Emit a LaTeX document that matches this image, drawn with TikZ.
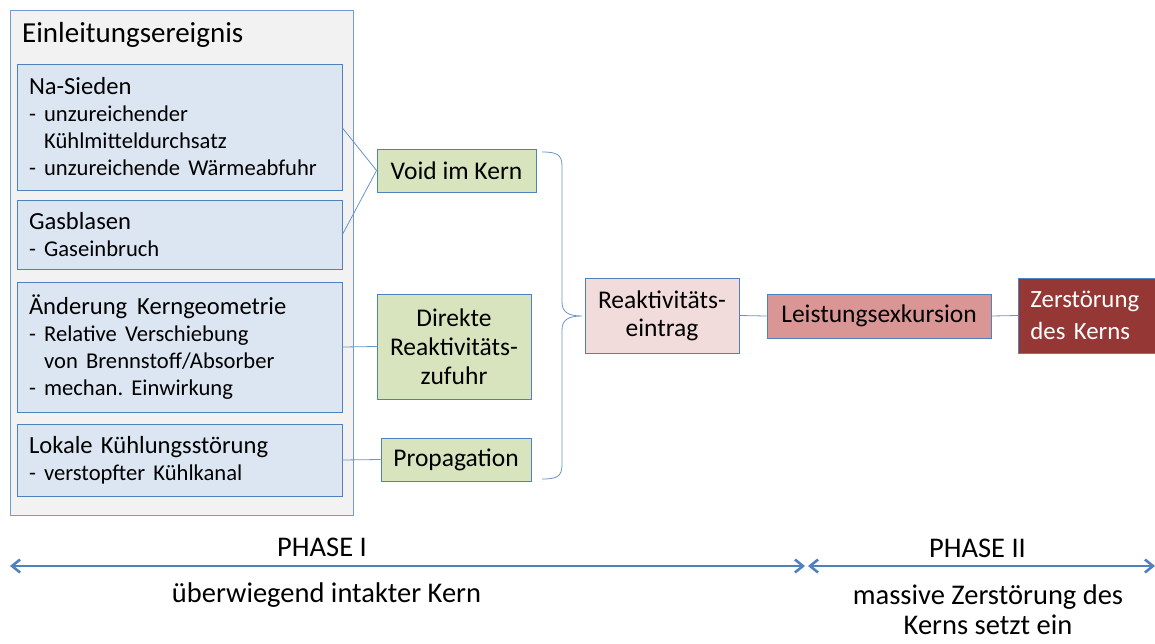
\documentclass[tikz,border=0pt]{standalone}
\usepackage{fontspec}
\setmainfont{Carlito}
\usetikzlibrary{arrows.meta,positioning}
\definecolor{rahmen}{HTML}{4F81BD}
\definecolor{grauhell}{HTML}{F2F2F2}
\definecolor{blauhell}{HTML}{DCE6F2}
\definecolor{gruenhell}{HTML}{D7E4BD}
\definecolor{rosahell}{HTML}{F2DCDB}
\definecolor{rosamittel}{HTML}{D99694}
\definecolor{rotdunkel}{HTML}{953735}
\newcommand{\titelfont}{\fontsize{29}{34}\selectfont}
\newcommand{\kopffont}{\fontsize{24.6}{27}\selectfont}
\newcommand{\unterfont}{\fontsize{22.6}{27}\selectfont}
\newcommand{\kastenfont}{\fontsize{25.5}{29}\selectfont}
\newcommand{\phasenfont}{\fontsize{28.5}{30}\selectfont}
\newcommand{\einzug}{\phantom{-}\ }
\frenchspacing

\begin{document}
\begin{tikzpicture}[
        x=1pt, y=-1pt,
        every node/.style={font=\kastenfont},
        ursache/.style={draw=rahmen, fill=blauhell, line width=0.9pt, font=\kopffont,
            text width=301pt, inner xsep=12pt, inner ysep=0pt, align=left},
        folge/.style={draw=rahmen, line width=0.9pt, inner sep=0pt, align=center},
        verbinder/.style={rahmen!85, line width=0.8pt},
        phasenpfeil/.style={rahmen, line width=2.6pt,
            {Straight Barb[length=8pt,width=13pt]}-{Straight Barb[length=8pt,width=13pt]}},
        phasentext/.style={font=\phasenfont, inner sep=0pt}
    ]
    \useasboundingbox (0,0) rectangle (1155,643);

    % ============ Einleitungsereignis ============
    \node[draw=rahmen!80, fill=grauhell, line width=0.9pt, minimum width=343pt,
        minimum height=505pt, inner sep=0pt] (ereignis) at (181.5,262.5) {};
    \node[font=\titelfont, inner sep=0pt, anchor=base west] (ereignistitel) at (22,42)
        {Einleitungsereignis};

    \node[ursache, minimum height=126pt] (nasieden) at (179.5,127)
        {Na-Sieden\\ \unterfont - unzureichender\\ \unterfont\einzug K\"uhlmitteldurchsatz\\
         \unterfont - unzureichende W\"armeabfuhr};
    \node[ursache, minimum height=69pt] (gasblasen) at (179.5,234.5)
        {Gasblasen\\ \unterfont - Gaseinbruch};
    \node[ursache, minimum height=130pt] (geometrie) at (179.5,347)
        {\"Anderung\hspace{0.4em}Kerngeometrie\\ \unterfont - Relative Verschiebung\\
         \unterfont\einzug von Brennstoff/Absorber\\ \unterfont - mechan. Einwirkung};
    \node[ursache, minimum height=72pt] (kuehlung) at (179.5,460)
        {Lokale K\"uhlungsst\"orung\\ \unterfont - verstopfter K\"uhlkanal};

    % ============ Mechanismen ============
    \node[folge, fill=gruenhell, minimum width=159pt, minimum height=43pt] (void)
        at (456.5,170.5) {Void im Kern};
    \node[folge, fill=gruenhell, minimum width=154pt, minimum height=105pt] (direkt)
        at (454,346.5) {Direkte\\Reaktivit\"ats-\\zufuhr};
    \node[folge, fill=gruenhell, minimum width=150pt, minimum height=43pt] (propagation)
        at (456,459.5) {Propagation};

    \draw[verbinder] (nasieden.east |- 0,128) -- (void.west);
    \draw[verbinder] (gasblasen.east) -- (void.west);
    \draw[verbinder] (geometrie.east) -- (direkt.west);
    \draw[verbinder] (kuehlung.east) -- (propagation.west);

    % geschweifte Klammer
    \coordinate (klammeroben) at (542,152);
    \coordinate (klammerunten) at (542,479);
    \coordinate (klammerspitze) at (582,316);
    \draw[verbinder] (klammeroben) .. controls (556,152) and (562,154) .. (562,166)
        -- (562,302) .. controls (562,312) and (568,316) .. (klammerspitze)
        .. controls (568,316) and (562,320) .. (562,330)
        -- (562,465) .. controls (562,477) and (556,479) .. (klammerunten);

    % ============ Ablauf ============
    \node[folge, fill=rosahell, minimum width=154pt, minimum height=75pt,
        font=\fontsize{25.5}{28}\selectfont] (eintrag) at (662,315.5)
        {Reaktivit\"ats-\\eintrag};
    \node[folge, fill=rosamittel, minimum width=224pt, minimum height=44pt] (exkursion)
        at (879,316) {Leistungsexkursion};
    \node[draw=rahmen, line width=0.9pt, fill=rotdunkel, text=white, anchor=west,
        text width=126pt, inner xsep=12pt, inner ysep=0pt, minimum height=75pt,
        align=left, font=\fontsize{24.8}{32}\selectfont] (zerstoerung) at (1018,315.5)
        {Zerst\"orung\\des Kerns};

    \draw[verbinder] (eintrag.east) -- (exkursion.west);
    \draw[verbinder] (exkursion.east) -- (zerstoerung.west);

    % ============ Phasen ============
    \coordinate (phaseeinsl) at (10,566);
    \coordinate (phaseeinsr) at (805,566);
    \coordinate (phasezweil) at (808,566);
    \coordinate (phasezweir) at (1155,566);
    \draw[phasenpfeil] (phaseeinsl) -- (phaseeinsr);
    \draw[phasenpfeil] (phasezweil) -- (phasezweir);

    \node[phasentext, anchor=base] (phaseeins) at (322,556) {PHASE I};
    \node[phasentext, anchor=base] (phasezwei) at (977.5,557) {PHASE II};
    \node[phasentext, anchor=base] (intakt) at (326.5,602) {\"uberwiegend intakter Kern};
    \node[phasentext, align=center] (massiv) at (988,610)
        {massive Zerst\"orung des\\Kerns setzt ein};
\end{tikzpicture}
\end{document}
